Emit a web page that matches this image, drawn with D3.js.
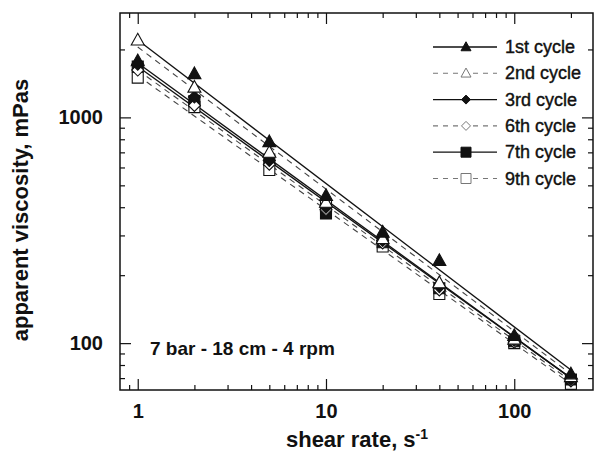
<!DOCTYPE html>
<html>
<head>
<meta charset="utf-8">
<script src="https://cdn.jsdelivr.net/npm/d3@7"></script>
<style>
  body { margin: 0; background: #fff; }
  text { font-family: "Liberation Sans", Arial, Helvetica, sans-serif; fill: #111; }
</style>
</head>
<body>
<div id="chart"></div>
<script>
// shear rates where viscosity was measured
var shearRate = [1, 2, 5, 10, 20, 40, 100, 200];

// apparent viscosity (mPas) per cycle
var cycle1 = [1780, 1560, 780, 450, 310, 232, 108, 73];
var cycle2 = [2200, 1360, 700, 420, 290, 185, 104, 71];
var cycle3 = [1720, 1230, 645, 400, 285, 178, 103, 69];
var cycle6 = [1620, 1130, 620, 390, 278, 172, 101, 68];
var cycle7 = [1680, 1180, 650, 375, 280, 175, 102, 69];
var cycle9 = [1500, 1110, 585, 405, 268, 165, 100, 66];

// power law fit lines: viscosity at the two ends of the fitted range
var fitRange = [1, 200];
var fitStart = [2200, 2050, 1740, 1620, 1680, 1530];
var fitEnd = [76, 73, 70, 68, 70, 66];

var cycleNames = ["1st cycle", "2nd cycle", "3rd cycle", "6th cycle", "7th cycle", "9th cycle"];
var xTicks = [1, 10, 100];
var yTicks = [100, 1000];

var w = 595, h = 452;
var plotLeft = 120, plotRight = 593, plotTop = 13, plotBottom = 390;

var series = [cycle1, cycle2, cycle3, cycle6, cycle7, cycle9];
// how each cycle is drawn
var styles = [
    {shape: "triangle", filled: true, dashed: false},
    {shape: "triangle", filled: false, dashed: true},
    {shape: "diamond", filled: true, dashed: false},
    {shape: "diamond", filled: false, dashed: true},
    {shape: "square", filled: true, dashed: false},
    {shape: "square", filled: false, dashed: true}
];

var xScale = d3.scaleLog().domain([0.805, 262]).range([plotLeft, plotRight]);
var yScale = d3.scaleLog().domain([62, 2900]).range([plotBottom, plotTop]);

var svg = d3.select("#chart").append("svg")
    .attr("width", w)
    .attr("height", h);

// marker path centred at 0,0, s = width in pixels
function markerPath(shape, s) {
    if (shape === "triangle") {
        var r = s / 2;
        return "M0," + (-r * 1.05) + "L" + r + "," + (r * 0.75) + "L" + (-r) + "," + (r * 0.75) + "Z";
    }
    if (shape === "diamond") {
        var d = s / 2;
        return "M0," + (-d) + "L" + d + ",0L0," + d + "L" + (-d) + ",0Z";
    }
    var q = s / 2;
    return "M" + (-q) + "," + (-q) + "H" + q + "V" + q + "H" + (-q) + "Z";
}
var plotSize = {triangle: 13, diamond: 12, square: 11};
var legendSize = {triangle: 10, diamond: 9, square: 10};

// minor tick values for log axes
function minorTicks(lo, hi) {
    var out = [];
    [0.1, 1, 10, 100, 1000].forEach(function(dec) {
        for (var k = 2; k <= 9; k++) {
            var v = k * dec;
            if (v >= lo && v <= hi) out.push(v);
        }
    });
    return out;
}
var xMinor = minorTicks(0.805, 262);
var yMinor = minorTicks(62, 2900);

// axes: ticks point inward on all four sides
function addAxis(axis, tx, ty, values, size, labels) {
    var g = svg.append("g")
        .attr("transform", "translate(" + tx + "," + ty + ")")
        .call(axis.tickValues(values).tickSize(size).tickFormat(labels ? d3.format("d") : ""));
    g.select(".domain").remove();
    g.selectAll("line").attr("stroke", "#111").attr("stroke-width", 1.2);
    return g;
}

var xMajor = addAxis(d3.axisBottom(xScale).tickPadding(14), 0, plotBottom, xTicks, -11, true);
addAxis(d3.axisBottom(xScale), 0, plotBottom, xMinor, -5, false);
addAxis(d3.axisTop(xScale), 0, plotTop, xTicks, -11, false);
addAxis(d3.axisTop(xScale), 0, plotTop, xMinor, -5, false);

var yMajor = addAxis(d3.axisLeft(yScale).tickPadding(17), plotLeft, 0, yTicks, -11, true);
addAxis(d3.axisLeft(yScale), plotLeft, 0, yMinor, -5, false);
addAxis(d3.axisRight(yScale), plotRight, 0, yTicks, -11, false);
addAxis(d3.axisRight(yScale), plotRight, 0, yMinor, -5, false);

[xMajor, yMajor].forEach(function(g) {
    g.selectAll("text")
        .style("font-size", "20px")
        .style("font-weight", "bold")
        .attr("fill", "#111");
});

svg.append("rect")
    .attr("x", plotLeft)
    .attr("y", plotTop)
    .attr("width", plotRight - plotLeft)
    .attr("height", plotBottom - plotTop)
    .attr("fill", "none")
    .attr("stroke", "#111")
    .attr("stroke-width", 1.5);

// fit lines
series.forEach(function(d, i) {
    svg.append("line")
        .attr("x1", xScale(fitRange[0]))
        .attr("y1", yScale(fitStart[i]))
        .attr("x2", xScale(fitRange[1]))
        .attr("y2", yScale(fitEnd[i]))
        .attr("stroke", styles[i].dashed ? "#444" : "#111")
        .attr("stroke-width", styles[i].dashed ? 1.1 : 1.3)
        .attr("stroke-dasharray", styles[i].dashed ? "6,5" : null);
});

// markers, last cycles first so the early ones sit on top
[5, 4, 3, 2, 1, 0].forEach(function(i) {
    svg.append("g").selectAll("path")
        .data(series[i])
        .enter()
        .append("path")
        .attr("transform", function(d, j) {
            return "translate(" + xScale(shearRate[j]) + "," + yScale(d) + ")";
        })
        .attr("d", markerPath(styles[i].shape, plotSize[styles[i].shape]))
        .attr("fill", styles[i].filled ? "#111" : "#fff")
        .attr("stroke", "#111")
        .attr("stroke-width", 1.1);
});

// legend
var legend = svg.append("g");
cycleNames.forEach(function(name, i) {
    var cy = 47 + i * 26.3;
    legend.append("line")
        .attr("x1", 433).attr("x2", 497)
        .attr("y1", cy).attr("y2", cy)
        .attr("stroke", styles[i].dashed ? "#777" : "#111")
        .attr("stroke-width", styles[i].dashed ? 1.1 : 1.3)
        .attr("stroke-dasharray", styles[i].dashed ? "5,5" : null);
    legend.append("path")
        .attr("transform", "translate(466," + cy + ")")
        .attr("d", markerPath(styles[i].shape, legendSize[styles[i].shape]))
        .attr("fill", styles[i].filled ? "#111" : "#fff")
        .attr("stroke", styles[i].filled ? "#111" : "#777")
        .attr("stroke-width", 1);
    legend.append("text")
        .attr("x", 505)
        .attr("y", cy + 6)
        .style("font-size", "18px")
        .attr("stroke", "#111")
        .attr("stroke-width", 0.4)
        .text(name);
});

// condition note
svg.append("text")
    .attr("x", 150)
    .attr("y", 355)
    .style("font-size", "19px")
    .style("font-weight", "bold")
    .text("7 bar - 18 cm - 4 rpm");

// axis titles
var xt = svg.append("text")
    .attr("x", 357)
    .attr("y", 447)
    .attr("text-anchor", "middle")
    .style("font-size", "22px")
    .style("font-weight", "bold");
xt.append("tspan").text("shear rate, s");
xt.append("tspan").attr("dy", -8).style("font-size", "14px").text("-1");

svg.append("text")
    .attr("transform", "translate(28," + 210 + ") rotate(-90)")
    .attr("text-anchor", "middle")
    .style("font-size", "22px")
    .style("font-weight", "bold")
    .text("apparent viscosity, mPas");
</script>
</body>
</html>
